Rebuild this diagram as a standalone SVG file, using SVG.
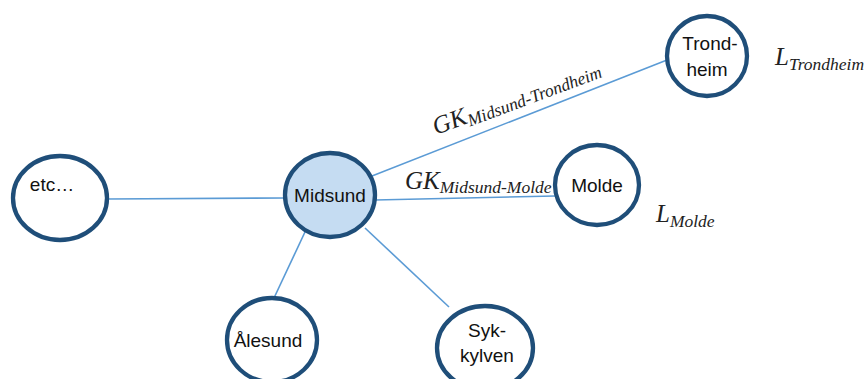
<svg xmlns="http://www.w3.org/2000/svg" width="864" height="379" viewBox="0 0 864 379">
<style>
.n{fill:#fff;stroke:#1f4e79;stroke-width:4.3}
.c{stroke:#5b9bd5;stroke-width:1.6;fill:none}
.t{font-family:"Liberation Sans",Arial,sans-serif;font-size:19px;fill:#111;text-anchor:middle}
.m{font-family:"Liberation Serif","Times New Roman",serif;font-style:italic;fill:#222}
.big{font-size:25px}
.sub{font-size:17.5px}
</style>
<rect width="864" height="379" fill="#fff"/>
<g id="connectors">
<line class="c" x1="107" y1="199" x2="284" y2="198"/>
<line class="c" x1="372" y1="176" x2="667" y2="60"/>
<line class="c" x1="375" y1="200" x2="555" y2="196"/>
<line class="c" x1="305" y1="232" x2="274" y2="298"/>
<line class="c" x1="365" y1="228" x2="449" y2="307"/>
</g>
<g id="etc"><ellipse class="n" cx="60" cy="198" rx="47" ry="42"/><text class="t" x="52" y="191">etc…</text></g>
<g id="midsund"><ellipse class="n" cx="330" cy="195" rx="45" ry="42" style="fill:#c5dcf2"/><text class="t" x="330" y="202">Midsund</text></g>
<g id="trondheim"><ellipse class="n" cx="707" cy="56" rx="40" ry="40"/><text class="t" x="710" y="50">Trond-</text><text class="t" x="707" y="76">heim</text></g>
<g id="molde"><ellipse class="n" cx="597" cy="185" rx="42" ry="40"/><text class="t" x="597" y="192">Molde</text></g>
<g id="alesund"><ellipse class="n" cx="272" cy="340" rx="45" ry="42"/><text class="t" x="268" y="347">Ålesund</text></g>
<g id="sykkylven"><ellipse class="n" cx="485" cy="348" rx="48" ry="42"/><text class="t" x="487" y="337">Syk-</text><text class="t" x="487" y="362">kylven</text></g>
<g id="labels">
<text class="m" transform="translate(436,135) rotate(-20.5)"><tspan class="big">GK</tspan><tspan class="sub" dy="4">Midsund-Trondheim</tspan></text>
<text class="m" x="405" y="189"><tspan class="big">GK</tspan><tspan class="sub" dy="4">Midsund-Molde</tspan></text>
<text class="m" x="775" y="65"><tspan class="big">L</tspan><tspan class="sub" dy="5">Trondheim</tspan></text>
<text class="m" x="656" y="222"><tspan class="big">L</tspan><tspan class="sub" dy="5">Molde</tspan></text>
</g>
</svg>
